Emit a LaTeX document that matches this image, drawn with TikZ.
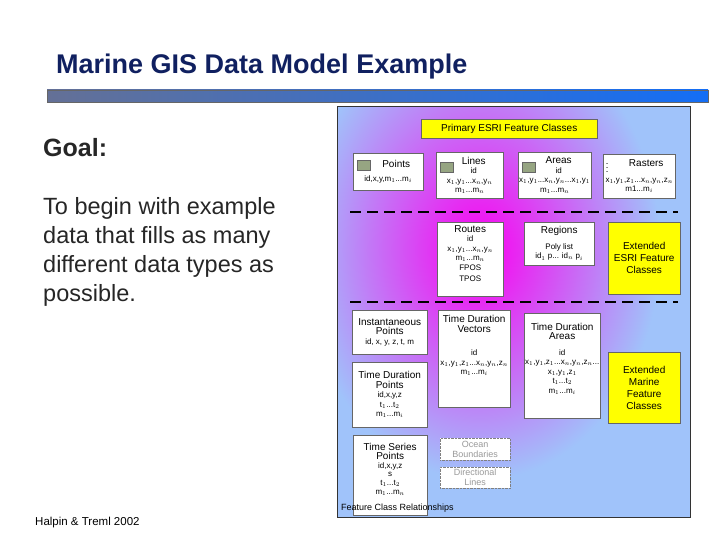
\documentclass[tikz,border=0pt]{standalone}
\usepackage{fontspec}
\setmainfont{Liberation Sans}
\usetikzlibrary{positioning}
\definecolor{navy}{RGB}{16,32,96}
\definecolor{panelblue}{RGB}{160,195,250}
\definecolor{mag}{RGB}{250,0,240}
\definecolor{ylw}{RGB}{255,255,0}
\definecolor{icon}{RGB}{150,165,130}
\definecolor{barl}{RGB}{100,112,150}
\definecolor{barr}{RGB}{20,110,245}
\newcommand{\bt}[1]{{\fontsize{10}{11}\selectfont #1}}
\tikzset{
  box/.style={draw=black!60, fill=white, anchor=north west, inner sep=1pt, align=center, font=\fontsize{8}{9.5}\selectfont},
  ybox/.style={box, fill=ylw, font=\fontsize{10}{12}\selectfont},
  dbox/.style={box, draw=black!50, densely dotted, text=black!40, font=\fontsize{9}{10}\selectfont},
  dline/.style={line width=1.6pt, dash pattern=on 11pt off 6pt},
  ic/.style={draw=black!60, fill=icon, minimum width=13pt, minimum height=10pt, inner sep=0pt, anchor=north west}
}
\begin{document}
\begin{tikzpicture}[x=1pt,y=-1pt]
\useasboundingbox (0,0) rectangle (720,540);
\node[anchor=west, text=navy, font=\fontsize{27}{30}\selectfont\bfseries, inner sep=0pt] (title) at (56,67) {Marine GIS Data Model Example};
\shade[left color=barl, right color=barr] (47,90) rectangle (708,102);
\draw[black!60] (47,90) rectangle (708,102);
\node[anchor=west, font=\fontsize{25}{28}\selectfont\bfseries, text=black!85, inner sep=0pt] (goal) at (43,148) {Goal:};
\node[anchor=north west, align=left, font=\fontsize{23.5}{29}\selectfont, text=black!85, inner sep=0pt] (body) at (43,197) {To begin with example\\data that fills as many\\different data types as\\possible.};
\node[anchor=west, font=\fontsize{11.5}{13}\selectfont, inner sep=0pt] (cite) at (35,523) {Halpin \& Treml 2002};
% panel
\fill[panelblue] (337,107) rectangle (690,517);
\begin{scope}
\clip (337,107) rectangle (690,517);
\shade[inner color=mag, outer color=panelblue] (480,250) ellipse (180 and 230);
\end{scope}
\draw[black!80, line width=1pt] (337,107) rectangle (690,517);
\node[ybox, minimum width=176pt, minimum height=19pt] (prim) at (421,119) {Primary ESRI Feature Classes};
\node[box, minimum width=70pt, minimum height=37pt] (pts) at (353,153) {\hspace*{16pt}\bt{Points}\\[5pt] id,x,y,m$_1$...m$_i$};
\node[ic] (i1) at (357,160) {};
\node[box, minimum width=67pt, minimum height=46pt] (lines) at (436,152) {\hspace*{8pt}\bt{Lines}\\\hspace*{8pt}id\\x$_1$,y$_1$...x$_n$,y$_n$\\m$_1$...m$_n$};
\node[ic] (i2) at (440,162) {};
\node[box, minimum width=69pt, minimum height=46pt] (areas) at (518,152) {\hspace*{8pt}\bt{Areas}\\\hspace*{8pt}id\\x$_1$,y$_1$...x$_n$,y$_n$...x$_1$,y$_1$\\m$_1$...m$_n$};
\node[ic] (i3) at (522,162) {};
\node[box, minimum width=72pt, minimum height=44pt] (rast) at (603,154) {\hspace*{14pt}\bt{Rasters}\\[6pt]x$_1$,y$_1$,z$_1$...x$_n$,y$_n$,z$_n$\\m1...m$_i$};
\node[anchor=north west, inner sep=0pt, font=\tiny] (i4) at (606,158) {$\vdots\!\vdots\!\vdots\!\vdots$};
\draw[dline] (350,212) -- (678,212);
\node[box, minimum width=66pt, minimum height=74pt] (routes) at (437,222) {\bt{Routes}\\id\\x$_1$,y$_1$...x$_n$,y$_n$\\m$_1$...m$_n$\\FPOS\\[2pt]TPOS\\[2pt]};
\node[box, minimum width=70pt, minimum height=43pt] (reg) at (524,222) {\bt{Regions}\\[6pt]Poly list\\id$_1$ p... id$_n$ p$_i$};
\node[ybox, minimum width=72pt, minimum height=72pt] (extesri) at (608,222) {Extended\\ESRI Feature\\Classes};
\draw[dline] (350,302) -- (678,302);
\node[box, minimum width=75pt, minimum height=44pt] (inst) at (352,310) {\bt{Instantaneous}\\\bt{Points}\\id, x, y, z, t, m};
\node[box, minimum width=72pt, minimum height=97pt] (tdv) at (438,310) {\bt{Time Duration}\\\bt{Vectors}\\[14pt]id\\x$_1$,y$_1$,z$_1$...x$_n$,y$_n$,z$_n$\\m$_1$...m$_i$\\[18pt]};
\node[box, minimum width=72pt, minimum height=105pt] (tda) at (524,313) {\bt{Time Duration}\\\bt{Areas}\\[6pt]id\\x$_1$,y$_1$,z$_1$...x$_n$,y$_n$,z$_n$...\\x$_1$,y$_1$,z$_1$\\t$_1$...t$_2$\\m$_1$...m$_i$\\[6pt]};
\node[ybox, minimum width=72pt, minimum height=71pt] (extmar) at (608,352) {Extended\\Marine\\Feature\\Classes};
\node[box, minimum width=75pt, minimum height=65pt] (tdp) at (352,362) {\bt{Time Duration}\\\bt{Points}\\id,x,y,z\\t$_1$...t$_2$\\m$_1$...m$_i$};
\node[box, minimum width=74pt, minimum height=80pt, font=\fontsize{8}{8.8}\selectfont] (tsp) at (353,435) {\bt{Time Series}\\\bt{Points}\\id,x,y,z\\s\\t$_1$...t$_2$\\m$_1$...m$_n$\\[4pt]};
\node[dbox, minimum width=70pt, minimum height=22pt] (ocean) at (440,438) {Ocean\\Boundaries};
\node[dbox, minimum width=70pt, minimum height=21pt] (dir) at (440,467) {Directional\\Lines};
\node[anchor=west, font=\fontsize{9}{10}\selectfont, inner sep=0pt] (fcr) at (341,508) {Feature Class Relationships};
\end{tikzpicture}
\end{document}
